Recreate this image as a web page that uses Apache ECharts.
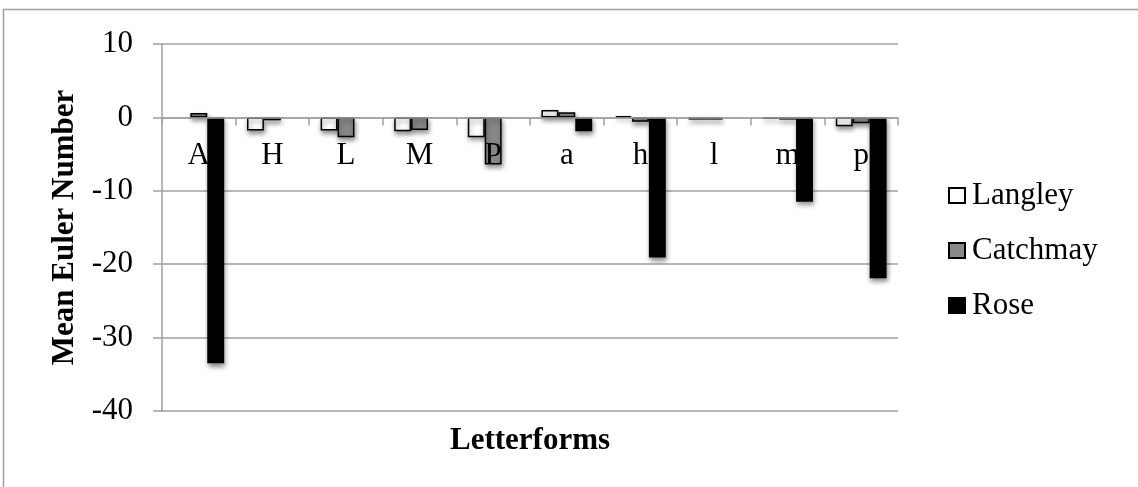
<!DOCTYPE html>
<html>
<head>
<meta charset="utf-8">
<script src="https://cdn.jsdelivr.net/npm/echarts@6/dist/echarts.min.js"></script>
<style>
  html, body { margin: 0; padding: 0; background: #fff; }
  #chart { width: 1138px; height: 487px; }
</style>
</head>
<body>
<div id="chart"></div>
<script>
// Mean Euler number per letterform, for three hands (null = no bar)
const letterforms = ['A', 'H', 'L', 'M', 'P', 'a', 'h', 'l', 'm', 'p'];
const langley  = [null, -1.8, -1.8, -1.9, -2.7, 1.0, 0.2, -0.3, -0.2, -1.2];
const catchmay = [0.6, -0.4, -2.7, -1.7, -6.4, 0.7, -0.6, -0.3, -0.3, -0.8];
const rose     = [-33.5, null, null, null, null, -1.9, -19.1, null, -11.5, -21.9];
const yTicks   = [10, 0, -10, -20, -30, -40];

const serif = '"Liberation Serif", "Times New Roman", serif';
const FS = 31;
const gridGrey = '#a0a0a0';
const barShadow = { shadowColor: 'rgba(0,0,0,0.45)', shadowBlur: 5, shadowOffsetX: 1, shadowOffsetY: 3 };

function barSeries(name, data, fill) {
  return {
    name: name,
    type: 'bar',
    data: data,
    barGap: '0%',
    barCategoryGap: '31%',
    itemStyle: Object.assign({ color: fill, borderColor: '#000', borderWidth: 1.5 }, barShadow)
  };
}

const chart = echarts.init(document.getElementById('chart'));
chart.setOption({
  animation: false,
  backgroundColor: '#fff',
  graphic: [{
    type: 'rect',
    shape: { x: 3.5, y: 9.5, width: 1200, height: 600 },
    style: { fill: 'none', stroke: gridGrey, lineWidth: 1.5 },
    silent: true
  }],
  grid: { left: 162, right: 240, top: 44, bottom: 76, containLabel: false, outerBoundsMode: 'none' },
  legend: {
    orient: 'vertical',
    left: 948,
    top: 180,
    padding: 0,
    itemWidth: 16,
    itemHeight: 15,
    itemGap: 24,
    icon: 'rect',
    textStyle: { fontFamily: serif, fontSize: FS, color: '#000', padding: [0, 0, 0, 2] },
    data: ['Langley', 'Catchmay', 'Rose']
  },
  xAxis: {
    type: 'category',
    data: letterforms,
    z: 5,
    name: 'Letterforms',
    nameLocation: 'middle',
    nameGap: 14,
    nameTextStyle: { fontFamily: serif, fontSize: FS, fontWeight: 'bold', color: '#000' },
    axisLine: { onZero: true, lineStyle: { color: gridGrey, width: 1.5 } },
    axisTick: { show: true, length: 8, lineStyle: { color: gridGrey, width: 1.5 } },
    axisLabel: { fontFamily: serif, fontSize: FS, color: '#000', margin: -271 },
    splitLine: { show: false }
  },
  yAxis: {
    type: 'value',
    min: -40,
    max: 10,
    interval: 10,
    name: 'Mean Euler Number',
    nameLocation: 'middle',
    nameGap: 75,
    nameTextStyle: { fontFamily: serif, fontSize: FS, fontWeight: 'bold', color: '#000' },
    axisLine: { show: true, lineStyle: { color: gridGrey, width: 1.5 } },
    axisTick: { show: true, length: 9, lineStyle: { color: gridGrey, width: 1.5 } },
    axisLabel: { fontFamily: serif, fontSize: FS, color: '#000', margin: 29 },
    splitLine: { show: true, lineStyle: { color: gridGrey, width: 1.5 } }
  },
  series: [
    barSeries('Langley', langley, '#ffffff'),
    barSeries('Catchmay', catchmay, '#888888'),
    barSeries('Rose', rose, '#000000')
  ]
});
</script>
</body>
</html>
